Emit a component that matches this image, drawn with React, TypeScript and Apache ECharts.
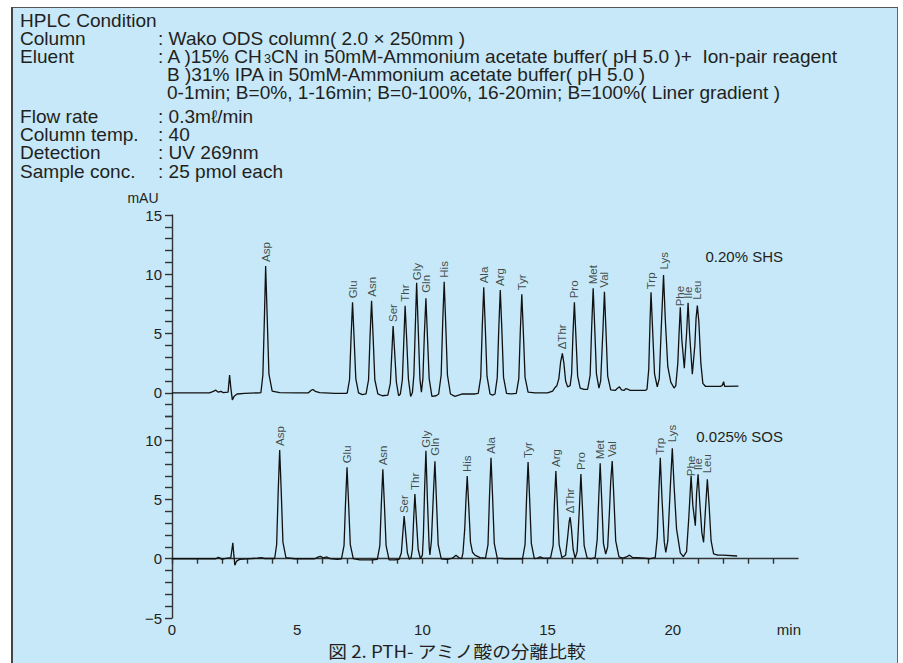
import React, { useEffect, useRef } from 'react';
import * as echarts from 'echarts';

// ---- Chromatogram traces (time in min, absorbance in mAU) ----
const UPPER_TRACE: [number, number][] = [
  [0, 0], [1.5, 0], [1.65, 0.12], [1.75, 0.22], [1.85, 0.05], [1.95, 0.12], [2.05, 0.02], [2.24, 0.05],
  [2.3, 1.5], [2.35, 0.4], [2.41, -0.6], [2.48, -0.3], [2.6, -0.1], [2.9, -0.05], [3.5, 0],
  [3.55, 0.02], [3.63, 1.5], [3.69, 6.3], [3.74, 10.7], [3.8, 6.5], [3.87, 1.6], [4.0, 0.15], [4.3, 0.02],
  [5.0, 0], [5.45, 0], [5.55, 0.2], [5.63, 0.28], [5.72, 0.12], [5.9, 0.02], [6.5, -0.05], [6.95, -0.05],
  [7.0, 0], [7.09, 1.1], [7.15, 4.6], [7.21, 7.63], [7.27, 4.7], [7.34, 1.2], [7.45, 0], [7.6, -0.15],
  [7.75, -0.1], [7.85, 1.1], [7.91, 4.8], [7.97, 7.77], [8.03, 4.8], [8.1, 1.1], [8.22, -0.1], [8.4, -0.25],
  [8.62, -0.2], [8.72, 0.8], [8.78, 3.4], [8.83, 5.64], [8.89, 3.5], [8.96, 0.9], [9.05, -0.25],
  [9.12, -0.1], [9.2, 1.1], [9.26, 4.5], [9.31, 7.35], [9.37, 4.6], [9.44, 1.2], [9.53, -0.3],
  [9.6, 0], [9.66, 1.5], [9.72, 5.8], [9.77, 9.29], [9.83, 5.6], [9.9, 1.2], [9.96, 0.05],
  [10.02, 1.2], [10.08, 5.0], [10.14, 7.97], [10.2, 4.8], [10.27, 1.2], [10.38, -0.3], [10.55, -0.25],
  [10.65, -0.1], [10.75, 1.5], [10.81, 5.9], [10.87, 9.37], [10.93, 5.9], [11.0, 1.5], [11.12, -0.1],
  [11.3, -0.3], [11.6, -0.1], [12.1, -0.1],
  [12.23, -0.05], [12.33, 1.3], [12.39, 5.5], [12.45, 8.9], [12.51, 5.6], [12.58, 1.4], [12.7, -0.1], [12.8, -0.2],
  [12.9, -0.1], [12.99, 1.3], [13.05, 5.4], [13.11, 8.67], [13.17, 5.5], [13.24, 1.3], [13.36, -0.05], [13.55, -0.1],
  [13.75, -0.05], [13.85, 1.2], [13.91, 5.2], [13.97, 8.31], [14.03, 5.2], [14.1, 1.3], [14.22, 0.05],
  [14.5, 0], [15.0, 0], [15.2, 0.15], [15.3, 0.45], [15.37, 0.6], [15.45, 1.2], [15.52, 2.6], [15.59, 3.33],
  [15.65, 2.5], [15.72, 1.0], [15.8, 0.5],
  [15.9, 0.6], [15.96, 1.6], [16.01, 4.8], [16.07, 7.63], [16.13, 4.8], [16.2, 1.4], [16.3, 0.4], [16.45, 0.28],
  [16.6, 0.3], [16.7, 1.5], [16.76, 5.5], [16.82, 8.82], [16.88, 5.6], [16.95, 1.6], [17.05, 0.4],
  [17.12, 1.0], [17.21, 5.3], [17.27, 8.53], [17.33, 5.3], [17.4, 1.4], [17.52, 0.25], [17.7, 0.2],
  [17.8, 0.4], [17.87, 0.5], [17.95, 0.25], [18.05, 0.2], [18.12, 0.35], [18.2, 0.3], [18.3, 0.2], [18.9, 0.2],
  [18.97, 0.3], [19.04, 2.0], [19.09, 6.0], [19.13, 8.48], [19.19, 5.5], [19.27, 1.6], [19.38, 0.51],
  [19.46, 1.2], [19.54, 5.5], [19.63, 9.94], [19.7, 6.2], [19.8, 2.2], [19.92, 0.9], [20.05, 0.4],
  [20.12, 0.6], [20.2, 2.5], [20.25, 5.0], [20.3, 7.21], [20.36, 4.5], [20.46, 2.07],
  [20.55, 5.0], [20.61, 7.6], [20.67, 5.0], [20.78, 1.56],
  [20.88, 4.0], [20.93, 6.3], [20.98, 7.35], [21.04, 6.0], [21.12, 2.5], [21.2, 0.8], [21.3, 0.55],
  [21.9, 0.55], [21.97, 0.6], [22.03, 0.94], [22.07, 0.55], [22.62, 0.57],
];

const LOWER_TRACE: [number, number][] = [
  [0, 0], [1.75, 0], [1.85, 0.12], [1.92, 0.05], [2.0, -0.05], [2.1, 0], [2.35, 0.1],
  [2.43, 1.35], [2.47, 0.3], [2.51, -0.55], [2.58, -0.2], [2.7, -0.05], [3.0, -0.02], [3.4, 0.05],
  [3.56, 0.1], [3.7, 0.02], [4.05, 0.02],
  [4.1, 0.02], [4.18, 1.2], [4.24, 5.6], [4.3, 9.17], [4.36, 5.8], [4.43, 1.4], [4.55, 0.1], [4.9, 0],
  [5.7, 0], [5.85, 0.15], [5.93, 0.2], [6.03, 0.08], [6.12, 0.12], [6.19, 0.15], [6.3, 0.02], [6.6, -0.05],
  [6.77, 0], [6.87, 1.1], [6.93, 4.7], [6.99, 7.71], [7.05, 4.8], [7.12, 1.2], [7.24, 0], [7.5, -0.1], [8.0, -0.1],
  [8.2, -0.05], [8.3, 1.1], [8.36, 4.6], [8.42, 7.54], [8.48, 4.7], [8.55, 1.1], [8.67, -0.1], [8.9, -0.1],
  [9.07, -0.05], [9.16, 0.5], [9.22, 2.2], [9.27, 3.6], [9.33, 2.2], [9.4, 0.5], [9.48, -0.05],
  [9.55, 0.1], [9.6, 0.8], [9.65, 3.3], [9.7, 5.46], [9.76, 3.3], [9.83, 0.8], [9.92, 0],
  [10.0, 0.3], [10.04, 2.0], [10.09, 6.0], [10.14, 9.11], [10.2, 5.0], [10.27, 1.0], [10.3, 0.32],
  [10.36, 1.5], [10.44, 5.5], [10.5, 8.22], [10.56, 5.0], [10.63, 1.2], [10.75, 0], [11.0, -0.05],
  [11.2, 0.05], [11.34, 0.3], [11.45, 0.1], [11.57, 0],
  [11.62, 0.5], [11.69, 2.5], [11.74, 5.0], [11.79, 6.98], [11.85, 4.5], [11.92, 1.4], [12.0, 0.55], [12.1, 0.3], [12.3, 0.1],
  [12.52, 0.05], [12.62, 1.2], [12.68, 5.3], [12.74, 8.52], [12.8, 5.4], [12.87, 1.3], [12.99, 0.05], [13.3, 0], [13.9, 0],
  [14.0, 0], [14.1, 1.2], [14.16, 5.1], [14.22, 8.16], [14.28, 5.2], [14.35, 1.3], [14.47, 0], [14.6, 0.05],
  [14.7, 0.15], [14.82, 0.05], [15.05, 0.05],
  [15.12, 0.1], [15.22, 1.1], [15.27, 4.6], [15.33, 7.4], [15.39, 4.6], [15.46, 1.2], [15.57, 0.1],
  [15.72, 0.3], [15.8, 1.8], [15.86, 3.1], [15.9, 3.5], [15.95, 2.6], [16.02, 0.8], [16.1, 0.05],
  [16.18, 0.6], [16.27, 4.3], [16.33, 7.15], [16.39, 4.4], [16.46, 1.1], [16.58, 0.05], [16.75, 0],
  [16.9, 0.1], [16.98, 1.6], [17.04, 5.0], [17.1, 8.05], [17.16, 5.0], [17.23, 1.3], [17.32, 0.4],
  [17.4, 1.0], [17.47, 4.0], [17.52, 6.5], [17.58, 8.25], [17.64, 5.5], [17.72, 1.5], [17.85, 0.15], [18.0, 0.05],
  [18.15, 0.15], [18.27, 0.3], [18.38, 0.12], [18.6, 0.1], [19.1, 0],
  [19.3, 0.1], [19.38, 1.8], [19.44, 5.5], [19.5, 8.52], [19.57, 5.0], [19.66, 1.4], [19.72, 0.54],
  [19.8, 1.5], [19.9, 6.0], [19.98, 9.32], [20.05, 6.2], [20.15, 2.5], [20.3, 0.5], [20.42, 0.17],
  [20.55, 0.6], [20.64, 3.5], [20.73, 7.0], [20.8, 4.5], [20.9, 2.79],
  [20.95, 5.5], [21.01, 7.12], [21.07, 5.0], [21.16, 2.2], [21.23, 1.39],
  [21.3, 4.0], [21.38, 6.7], [21.45, 4.5], [21.53, 1.5], [21.63, 0.4], [21.8, 0.3], [22.0, 0.3], [22.57, 0.23],
];

// ---- Peak labels ----
const UPPER_PEAK_NAMES = ['Asp', 'Glu', 'Asn', 'Ser', 'Thr', 'Gly', 'Gln', 'His', 'Ala', 'Arg', 'Tyr', 'ΔThr', 'Pro', 'Met', 'Val', 'Trp', 'Lys', 'Phe', 'Ile', 'Leu'];
const UPPER_PEAK_TIMES = [3.74, 7.21, 7.97, 8.83, 9.31, 9.77, 10.14, 10.87, 12.45, 13.11, 13.97, 15.59, 16.07, 16.82, 17.27, 19.13, 19.63, 20.3, 20.61, 20.98];
const UPPER_PEAK_HEIGHTS = [10.7, 7.63, 7.77, 5.64, 7.35, 9.29, 7.97, 9.37, 8.9, 8.67, 8.31, 3.33, 7.63, 8.82, 8.53, 8.48, 9.94, 7.21, 7.6, 7.35];

const LOWER_PEAK_NAMES = ['Asp', 'Glu', 'Asn', 'Ser', 'Thr', 'Gly', 'Gln', 'His', 'Ala', 'Tyr', 'Arg', 'ΔThr', 'Pro', 'Met', 'Val', 'Trp', 'Lys', 'Phe', 'Ile', 'Leu'];
const LOWER_PEAK_TIMES = [4.3, 6.99, 8.42, 9.27, 9.7, 10.14, 10.5, 11.79, 12.74, 14.22, 15.33, 15.9, 16.33, 17.1, 17.58, 19.5, 19.98, 20.73, 21.01, 21.38];
const LOWER_PEAK_HEIGHTS = [9.17, 7.71, 7.54, 3.6, 5.46, 9.11, 8.22, 6.98, 8.52, 8.16, 7.4, 3.5, 7.15, 8.05, 8.25, 8.52, 9.32, 7.0, 7.12, 6.7];

// ---- Tick labels ----
const X_TICK_LABELS = [0, 5, 10, 15, 20];
const UPPER_Y_TICK_LABELS = [0, 5, 10, 15];
const LOWER_Y_TICK_LABELS = [-5, 0, 5, 10];

// ---- Text ----
const TRACE_NAMES = ['0.20% SHS', '0.025% SOS'];
const HEADER_TITLE = 'HPLC Condition';
const HEADER_KEYS = ['Column', 'Eluent', 'Flow rate', 'Column temp.', 'Detection', 'Sample conc.'];
const HEADER_VALUES = [
  ': Wako ODS column( 2.0 × 250mm )',
  ': A )15% CH{s|3}CN in 50mM-Ammonium acetate buffer( pH 5.0 )+  Ion-pair reagent',
  ': 0.3mℓ/min',
  ': 40',
  ': UV 269nm',
  ': 25 pmol each',
];
const ELUENT_EXTRA = [
  'B )31% IPA in 50mM-Ammonium acetate buffer( pH 5.0 )',
  '0-1min; B=0%, 1-16min; B=0-100%, 16-20min; B=100%( Liner gradient )',
];
const Y_NAME = 'mAU';
const X_NAME = 'min';
const CAPTION = '図 2. PTH- アミノ酸の分離比較';

const FONT = 'Liberation Sans, Arial, Helvetica, sans-serif';
const TEXT_COLOR = '#231f20';

// small horizontal nudges (px) for crowded peak labels
const UPPER_LABEL_NUDGE: Record<string, number> = { Gly: -1.5, Gln: 1.5, Trp: -1, Lys: 1.5, Phe: -3, Leu: 2 };
const LOWER_LABEL_NUDGE: Record<string, number> = { Ser: -1, Gly: -1, Gln: 1.5, Trp: -1, Lys: 2, Phe: -4.5, Leu: 2 };

export default function App() {
  const ref = useRef<HTMLDivElement>(null);

  useEffect(() => {
    if (!ref.current) return;
    const chart = echarts.init(ref.current, null, { renderer: 'svg' });

    const txt = (text: string, x: number, y: number, fontSize: number, extra: any = {}, scaleX = 1) => ({
      type: 'text',
      x,
      y,
      scaleX,
      silent: true,
      style: {
        text,
        fontSize,
        fontFamily: FONT,
        fill: TEXT_COLOR,
        align: 'left',
        verticalAlign: 'middle',
        ...extra,
      },
    });

    const HF = 18;
    const HS = 1.06;
    const headerRows = [38.5, 56.5, 117, 135, 153, 171.5];
    const graphics: any[] = [txt(HEADER_TITLE, 20, 20.5, HF, {}, HS)];
    HEADER_KEYS.forEach((k, i) => {
      graphics.push(txt(k, 20, headerRows[i], HF, {}, HS));
      graphics.push(
        txt(
          HEADER_VALUES[i],
          158,
          headerRows[i],
          HF,
          { rich: { s: { fontSize: 12, fontFamily: FONT, fill: TEXT_COLOR, verticalAlign: 'bottom' } } },
          HS
        )
      );
    });
    graphics.push(txt(ELUENT_EXTRA[0], 167, 74.5, HF, {}, HS));
    graphics.push(txt(ELUENT_EXTRA[1], 167, 92.5, HF, {}, HS));
    graphics.push(txt(Y_NAME, 143, 198, 14, { align: 'center' }));
    graphics.push(txt(X_NAME, 801, 629.5, 15, { align: 'right' }));
    graphics.push(txt(TRACE_NAMES[0], 783, 256, 15, { align: 'right' }));
    graphics.push(txt(TRACE_NAMES[1], 783, 436, 15, { align: 'right' }));
    graphics.push({
      type: 'text',
      x: 457,
      y: 650.5,
      scaleX: 1.1,
      silent: true,
      style: {
        text: CAPTION,
        fontSize: 17,
        fontFamily: '"Noto Sans CJK JP", sans-serif',
        fill: TEXT_COLOR,
        align: 'center',
        verticalAlign: 'middle',
      },
    });

    const axisLineStyle = { color: '#333', width: 1.4 };
    const gridLeft = 172;
    const gridRight = 105;
    const unit = 403 / 34;

    const peakLabels = (names: string[], times: number[], heights: number[], nudge: Record<string, number>) =>
      names.map((n, i) => ({
        name: n,
        value: [times[i], heights[i]],
        label: nudge[n] ? { offset: [nudge[n], 0] } : undefined,
      }));

    const labelSeries = (xi: number, data: any[]) => ({
      type: 'scatter',
      xAxisIndex: xi,
      yAxisIndex: xi,
      data,
      symbol: 'circle',
      symbolSize: 0,
      silent: true,
      itemStyle: { color: 'rgba(0,0,0,0)' },
      label: {
        show: true,
        formatter: '{b}',
        position: 'top',
        distance: 4,
        rotate: 90,
        align: 'left',
        verticalAlign: 'middle',
        fontSize: 11.5,
        fontFamily: FONT,
        color: TEXT_COLOR,
      },
      z: 5,
    });

    const option: any = {
      animation: false,
      backgroundColor: 'transparent',
      graphic: graphics,
      grid: [
        { left: gridLeft, right: gridRight, top: 215, height: 17 * unit },
        { left: gridLeft, right: gridRight, top: 215 + 17 * unit, height: 17 * unit },
      ],
      xAxis: [
        { gridIndex: 0, type: 'value', min: 0, max: 25, show: false },
        {
          gridIndex: 1,
          type: 'value',
          min: 0,
          max: 25,
          interval: 1,
          axisLine: { show: true, lineStyle: axisLineStyle },
          axisTick: { show: true, length: 5, lineStyle: axisLineStyle },
          splitLine: { show: false },
          axisLabel: {
            formatter: (v: number) => (X_TICK_LABELS.includes(v) ? String(v) : ''),
            fontSize: 15,
            fontFamily: FONT,
            color: TEXT_COLOR,
            margin: 4,
            showMaxLabel: false,
          },
        },
      ],
      yAxis: [
        {
          gridIndex: 0,
          type: 'value',
          min: -2,
          max: 15,
          interval: 1,
          axisLine: { show: true, lineStyle: axisLineStyle },
          axisTick: { show: true, length: 7, lineStyle: axisLineStyle },
          splitLine: { show: false },
          axisLabel: {
            formatter: (v: number) => (UPPER_Y_TICK_LABELS.includes(v) ? String(v) : ''),
            fontSize: 15,
            fontFamily: FONT,
            color: TEXT_COLOR,
            margin: 10,
          },
        },
        {
          gridIndex: 1,
          type: 'value',
          min: -5,
          max: 12,
          interval: 1,
          axisLine: { show: true, lineStyle: axisLineStyle },
          axisTick: { show: true, length: 7, lineStyle: axisLineStyle },
          splitLine: { show: false },
          axisLabel: {
            formatter: (v: number) => (LOWER_Y_TICK_LABELS.includes(v) ? (v < 0 ? '−' + Math.abs(v) : String(v)) : ''),
            fontSize: 15,
            fontFamily: FONT,
            color: TEXT_COLOR,
            margin: 10,
          },
        },
      ],
      series: [
        {
          type: 'line',
          xAxisIndex: 0,
          yAxisIndex: 0,
          data: UPPER_TRACE,
          symbol: 'none',
          showSymbol: false,
          silent: true,
          lineStyle: { color: '#111', width: 1.3 },
          z: 3,
        },
        {
          type: 'line',
          xAxisIndex: 1,
          yAxisIndex: 1,
          data: LOWER_TRACE,
          symbol: 'none',
          showSymbol: false,
          silent: true,
          lineStyle: { color: '#111', width: 1.3 },
          z: 3,
        },
        labelSeries(0, peakLabels(UPPER_PEAK_NAMES, UPPER_PEAK_TIMES, UPPER_PEAK_HEIGHTS, UPPER_LABEL_NUDGE)),
        labelSeries(1, peakLabels(LOWER_PEAK_NAMES, LOWER_PEAK_TIMES, LOWER_PEAK_HEIGHTS, LOWER_LABEL_NUDGE)),
      ],
    };

    chart.setOption(option);
    return () => chart.dispose();
  }, []);

  return (
    <div style={{ position: 'fixed', left: 0, top: 0, width: 903, height: 663, background: '#ffffff', overflow: 'hidden' }}>
      <div
        style={{
          position: 'absolute',
          left: 11,
          top: 7,
          width: 884,
          height: 700,
          background: '#c6e8f8',
          borderLeft: '2px solid #444',
          borderTop: '1.5px solid #555',
          borderRight: '1px solid #666',
        }}
      />
      <div ref={ref} style={{ position: 'absolute', left: 0, top: 0, width: 903, height: 663 }} />
    </div>
  );
}
